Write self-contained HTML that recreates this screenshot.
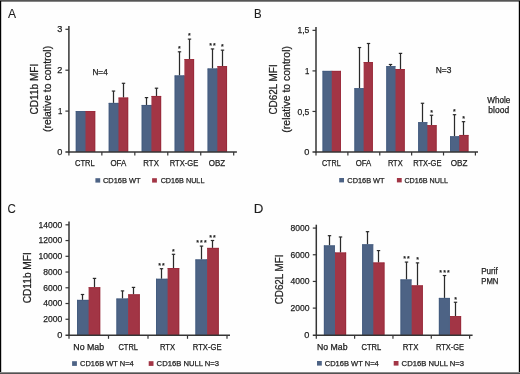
<!DOCTYPE html>
<html><head><meta charset="utf-8"><style>
html,body{margin:0;padding:0;background:#fff;}
svg{display:block;font-family:"Liberation Sans", sans-serif;-webkit-font-smoothing:antialiased;will-change:transform;}
</style></head><body>
<svg width="520" height="374" viewBox="0 0 520 374">
<rect x="0" y="0" width="520" height="374" fill="#fefefe"/>
<text x="7.97" y="17.90" font-size="12.6" textLength="8.05" lengthAdjust="spacingAndGlyphs" fill="#1e1e1e" stroke="#1e1e1e" stroke-width="0.1" >A</text>
<text x="253.95" y="17.70" font-size="12.2" textLength="7.64" lengthAdjust="spacingAndGlyphs" fill="#1e1e1e" stroke="#1e1e1e" stroke-width="0.1" >B</text>
<text x="7.43" y="213.30" font-size="12.4" textLength="8.30" lengthAdjust="spacingAndGlyphs" fill="#1e1e1e" stroke="#1e1e1e" stroke-width="0.1" >C</text>
<text x="253.80" y="213.30" font-size="12.4" textLength="9.63" lengthAdjust="spacingAndGlyphs" fill="#1e1e1e" stroke="#1e1e1e" stroke-width="0.1" >D</text>
<rect x="75.80" y="111.10" width="9.70" height="40.90" fill="#4d6385"/>
<rect x="84.30" y="111.10" width="2.00" height="40.90" fill="#4d6385"/>
<rect x="75.80" y="111.10" width="0.80" height="40.90" fill="#425a7e"/>
<rect x="75.80" y="111.10" width="9.70" height="0.80" fill="#425a7e"/>
<rect x="85.50" y="111.10" width="9.70" height="40.90" fill="#a23545"/>
<rect x="94.40" y="111.10" width="0.80" height="40.90" fill="#982838"/>
<rect x="85.50" y="111.10" width="9.70" height="0.80" fill="#982838"/>
<line x1="113.50" y1="91.06" x2="113.50" y2="102.92" stroke="#2a2a2a" stroke-width="1.25"/>
<line x1="111.80" y1="91.06" x2="115.20" y2="91.06" stroke="#2a2a2a" stroke-width="1.2"/>
<rect x="108.76" y="102.92" width="9.70" height="49.08" fill="#4d6385"/>
<rect x="117.26" y="102.92" width="2.00" height="49.08" fill="#4d6385"/>
<rect x="108.76" y="102.92" width="0.80" height="49.08" fill="#425a7e"/>
<rect x="108.76" y="102.92" width="9.70" height="0.80" fill="#425a7e"/>
<line x1="123.50" y1="83.29" x2="123.50" y2="97.60" stroke="#2a2a2a" stroke-width="1.25"/>
<line x1="121.80" y1="83.29" x2="125.20" y2="83.29" stroke="#2a2a2a" stroke-width="1.2"/>
<rect x="118.46" y="97.60" width="9.70" height="54.40" fill="#a23545"/>
<rect x="127.36" y="97.60" width="0.80" height="54.40" fill="#982838"/>
<rect x="118.46" y="97.60" width="9.70" height="0.80" fill="#982838"/>
<line x1="146.50" y1="97.60" x2="146.50" y2="104.97" stroke="#2a2a2a" stroke-width="1.25"/>
<line x1="144.80" y1="97.60" x2="148.20" y2="97.60" stroke="#2a2a2a" stroke-width="1.2"/>
<rect x="141.72" y="104.97" width="9.70" height="47.03" fill="#4d6385"/>
<rect x="150.22" y="104.97" width="2.00" height="47.03" fill="#4d6385"/>
<rect x="141.72" y="104.97" width="0.80" height="47.03" fill="#425a7e"/>
<rect x="141.72" y="104.97" width="9.70" height="0.80" fill="#425a7e"/>
<line x1="156.50" y1="88.20" x2="156.50" y2="95.97" stroke="#2a2a2a" stroke-width="1.25"/>
<line x1="154.80" y1="88.20" x2="158.20" y2="88.20" stroke="#2a2a2a" stroke-width="1.2"/>
<rect x="151.42" y="95.97" width="9.70" height="56.03" fill="#a23545"/>
<rect x="160.32" y="95.97" width="0.80" height="56.03" fill="#982838"/>
<rect x="151.42" y="95.97" width="9.70" height="0.80" fill="#982838"/>
<line x1="179.50" y1="51.80" x2="179.50" y2="75.52" stroke="#2a2a2a" stroke-width="1.25"/>
<line x1="177.80" y1="51.80" x2="181.20" y2="51.80" stroke="#2a2a2a" stroke-width="1.2"/>
<rect x="174.68" y="75.52" width="9.70" height="76.48" fill="#4d6385"/>
<rect x="183.18" y="75.52" width="2.00" height="76.48" fill="#4d6385"/>
<rect x="174.68" y="75.52" width="0.80" height="76.48" fill="#425a7e"/>
<rect x="174.68" y="75.52" width="9.70" height="0.80" fill="#425a7e"/>
<text x="178.13" y="51.09" font-size="7.0" textLength="2.74" lengthAdjust="spacingAndGlyphs" fill="#1e1e1e" stroke="#1e1e1e" stroke-width="0.25" >*</text>
<line x1="189.50" y1="39.12" x2="189.50" y2="59.16" stroke="#2a2a2a" stroke-width="1.25"/>
<line x1="187.80" y1="39.12" x2="191.20" y2="39.12" stroke="#2a2a2a" stroke-width="1.2"/>
<rect x="184.38" y="59.16" width="9.70" height="92.84" fill="#a23545"/>
<rect x="193.28" y="59.16" width="0.80" height="92.84" fill="#982838"/>
<rect x="184.38" y="59.16" width="9.70" height="0.80" fill="#982838"/>
<text x="188.13" y="38.41" font-size="7.0" textLength="2.74" lengthAdjust="spacingAndGlyphs" fill="#1e1e1e" stroke="#1e1e1e" stroke-width="0.25" >*</text>
<line x1="212.50" y1="48.93" x2="212.50" y2="68.56" stroke="#2a2a2a" stroke-width="1.25"/>
<line x1="210.80" y1="48.93" x2="214.20" y2="48.93" stroke="#2a2a2a" stroke-width="1.2"/>
<rect x="207.64" y="68.56" width="9.70" height="83.44" fill="#4d6385"/>
<rect x="216.14" y="68.56" width="2.00" height="83.44" fill="#4d6385"/>
<rect x="207.64" y="68.56" width="0.80" height="83.44" fill="#425a7e"/>
<rect x="207.64" y="68.56" width="9.70" height="0.80" fill="#425a7e"/>
<text x="209.23" y="48.22" font-size="7.0" textLength="2.74" lengthAdjust="spacingAndGlyphs" fill="#1e1e1e" stroke="#1e1e1e" stroke-width="0.25" >*</text>
<text x="213.03" y="48.22" font-size="7.0" textLength="2.74" lengthAdjust="spacingAndGlyphs" fill="#1e1e1e" stroke="#1e1e1e" stroke-width="0.25" >*</text>
<line x1="222.50" y1="50.16" x2="222.50" y2="66.11" stroke="#2a2a2a" stroke-width="1.25"/>
<line x1="220.80" y1="50.16" x2="224.20" y2="50.16" stroke="#2a2a2a" stroke-width="1.2"/>
<rect x="217.34" y="66.11" width="9.70" height="85.89" fill="#a23545"/>
<rect x="226.24" y="66.11" width="0.80" height="85.89" fill="#982838"/>
<rect x="217.34" y="66.11" width="9.70" height="0.80" fill="#982838"/>
<text x="221.13" y="49.45" font-size="7.0" textLength="2.74" lengthAdjust="spacingAndGlyphs" fill="#1e1e1e" stroke="#1e1e1e" stroke-width="0.25" >*</text>
<line x1="68.90" y1="26.00" x2="68.90" y2="152.75" stroke="#353535" stroke-width="1.5"/>
<line x1="65.40" y1="152.00" x2="236.90" y2="152.00" stroke="#353535" stroke-width="1.5"/>
<text x="57.14" y="155.01" font-size="9.2" textLength="5.12" lengthAdjust="spacingAndGlyphs" fill="#1e1e1e" stroke="#1e1e1e" stroke-width="0.25" >0</text>
<line x1="65.40" y1="111.10" x2="68.90" y2="111.10" stroke="#353535" stroke-width="1.2"/>
<text x="57.93" y="114.11" font-size="9.2" textLength="4.35" lengthAdjust="spacingAndGlyphs" fill="#1e1e1e" stroke="#1e1e1e" stroke-width="0.25" >1</text>
<line x1="65.40" y1="70.20" x2="68.90" y2="70.20" stroke="#353535" stroke-width="1.2"/>
<text x="57.25" y="73.21" font-size="9.2" textLength="5.12" lengthAdjust="spacingAndGlyphs" fill="#1e1e1e" stroke="#1e1e1e" stroke-width="0.25" >2</text>
<line x1="65.40" y1="29.30" x2="68.90" y2="29.30" stroke="#353535" stroke-width="1.2"/>
<text x="57.19" y="32.31" font-size="9.2" textLength="5.12" lengthAdjust="spacingAndGlyphs" fill="#1e1e1e" stroke="#1e1e1e" stroke-width="0.25" >3</text>
<line x1="68.90" y1="152.00" x2="68.90" y2="155.50" stroke="#353535" stroke-width="1.2"/>
<line x1="101.86" y1="152.00" x2="101.86" y2="155.50" stroke="#353535" stroke-width="1.2"/>
<line x1="134.82" y1="152.00" x2="134.82" y2="155.50" stroke="#353535" stroke-width="1.2"/>
<line x1="167.78" y1="152.00" x2="167.78" y2="155.50" stroke="#353535" stroke-width="1.2"/>
<line x1="200.74" y1="152.00" x2="200.74" y2="155.50" stroke="#353535" stroke-width="1.2"/>
<line x1="233.70" y1="152.00" x2="233.70" y2="155.50" stroke="#353535" stroke-width="1.2"/>
<text x="75.02" y="166.10" font-size="8.4" textLength="19.63" lengthAdjust="spacingAndGlyphs" fill="#1e1e1e" stroke="#1e1e1e" stroke-width="0.25" >CTRL</text>
<text x="110.42" y="166.10" font-size="8.4" textLength="15.90" lengthAdjust="spacingAndGlyphs" fill="#1e1e1e" stroke="#1e1e1e" stroke-width="0.25" >OFA</text>
<text x="143.35" y="166.10" font-size="8.4" textLength="15.52" lengthAdjust="spacingAndGlyphs" fill="#1e1e1e" stroke="#1e1e1e" stroke-width="0.25" >RTX</text>
<text x="169.77" y="166.10" font-size="8.4" textLength="28.55" lengthAdjust="spacingAndGlyphs" fill="#1e1e1e" stroke="#1e1e1e" stroke-width="0.25" >RTX-GE</text>
<text x="208.72" y="166.10" font-size="8.4" textLength="16.42" lengthAdjust="spacingAndGlyphs" fill="#1e1e1e" stroke="#1e1e1e" stroke-width="0.25" >OBZ</text>
<rect x="322.60" y="70.90" width="9.15" height="81.10" fill="#4d6385"/>
<rect x="330.55" y="70.90" width="2.00" height="81.10" fill="#4d6385"/>
<rect x="322.60" y="70.90" width="0.80" height="81.10" fill="#425a7e"/>
<rect x="322.60" y="70.90" width="9.15" height="0.80" fill="#425a7e"/>
<rect x="331.75" y="70.90" width="9.15" height="81.10" fill="#a23545"/>
<rect x="340.10" y="70.90" width="0.80" height="81.10" fill="#982838"/>
<rect x="331.75" y="70.90" width="9.15" height="0.80" fill="#982838"/>
<line x1="359.50" y1="47.54" x2="359.50" y2="88.26" stroke="#2a2a2a" stroke-width="1.25"/>
<line x1="357.80" y1="47.54" x2="361.20" y2="47.54" stroke="#2a2a2a" stroke-width="1.2"/>
<rect x="354.48" y="88.26" width="9.15" height="63.74" fill="#4d6385"/>
<rect x="362.43" y="88.26" width="2.00" height="63.74" fill="#4d6385"/>
<rect x="354.48" y="88.26" width="0.80" height="63.74" fill="#425a7e"/>
<rect x="354.48" y="88.26" width="9.15" height="0.80" fill="#425a7e"/>
<line x1="368.50" y1="43.49" x2="368.50" y2="62.06" stroke="#2a2a2a" stroke-width="1.25"/>
<line x1="366.80" y1="43.49" x2="370.20" y2="43.49" stroke="#2a2a2a" stroke-width="1.2"/>
<rect x="363.63" y="62.06" width="9.15" height="89.94" fill="#a23545"/>
<rect x="371.98" y="62.06" width="0.80" height="89.94" fill="#982838"/>
<rect x="363.63" y="62.06" width="9.15" height="0.80" fill="#982838"/>
<line x1="390.50" y1="64.49" x2="390.50" y2="66.20" stroke="#2a2a2a" stroke-width="1.25"/>
<line x1="388.80" y1="64.49" x2="392.20" y2="64.49" stroke="#2a2a2a" stroke-width="1.2"/>
<rect x="386.36" y="66.20" width="9.15" height="85.80" fill="#4d6385"/>
<rect x="394.31" y="69.03" width="2.00" height="82.97" fill="#4d6385"/>
<rect x="386.36" y="66.20" width="0.80" height="85.80" fill="#425a7e"/>
<rect x="386.36" y="66.20" width="9.15" height="0.80" fill="#425a7e"/>
<line x1="400.50" y1="53.38" x2="400.50" y2="69.03" stroke="#2a2a2a" stroke-width="1.25"/>
<line x1="398.80" y1="53.38" x2="402.20" y2="53.38" stroke="#2a2a2a" stroke-width="1.2"/>
<rect x="395.51" y="69.03" width="9.15" height="82.97" fill="#a23545"/>
<rect x="403.86" y="69.03" width="0.80" height="82.97" fill="#982838"/>
<rect x="395.51" y="69.03" width="9.15" height="0.80" fill="#982838"/>
<line x1="422.50" y1="103.26" x2="422.50" y2="122.24" stroke="#2a2a2a" stroke-width="1.25"/>
<line x1="420.80" y1="103.26" x2="424.20" y2="103.26" stroke="#2a2a2a" stroke-width="1.2"/>
<rect x="418.24" y="122.24" width="9.15" height="29.76" fill="#4d6385"/>
<rect x="426.19" y="125.24" width="2.00" height="26.76" fill="#4d6385"/>
<rect x="418.24" y="122.24" width="0.80" height="29.76" fill="#425a7e"/>
<rect x="418.24" y="122.24" width="9.15" height="0.80" fill="#425a7e"/>
<line x1="431.50" y1="115.26" x2="431.50" y2="125.24" stroke="#2a2a2a" stroke-width="1.25"/>
<line x1="429.80" y1="115.26" x2="433.20" y2="115.26" stroke="#2a2a2a" stroke-width="1.2"/>
<rect x="427.39" y="125.24" width="9.15" height="26.76" fill="#a23545"/>
<rect x="435.74" y="125.24" width="0.80" height="26.76" fill="#982838"/>
<rect x="427.39" y="125.24" width="9.15" height="0.80" fill="#982838"/>
<text x="430.13" y="114.55" font-size="7.0" textLength="2.74" lengthAdjust="spacingAndGlyphs" fill="#1e1e1e" stroke="#1e1e1e" stroke-width="0.25" >*</text>
<line x1="454.50" y1="114.69" x2="454.50" y2="136.35" stroke="#2a2a2a" stroke-width="1.25"/>
<line x1="452.80" y1="114.69" x2="456.20" y2="114.69" stroke="#2a2a2a" stroke-width="1.2"/>
<rect x="450.12" y="136.35" width="9.15" height="15.65" fill="#4d6385"/>
<rect x="458.07" y="136.35" width="2.00" height="15.65" fill="#4d6385"/>
<rect x="450.12" y="136.35" width="0.80" height="15.65" fill="#425a7e"/>
<rect x="450.12" y="136.35" width="9.15" height="0.80" fill="#425a7e"/>
<text x="453.13" y="113.98" font-size="7.0" textLength="2.74" lengthAdjust="spacingAndGlyphs" fill="#1e1e1e" stroke="#1e1e1e" stroke-width="0.25" >*</text>
<line x1="463.50" y1="121.67" x2="463.50" y2="134.97" stroke="#2a2a2a" stroke-width="1.25"/>
<line x1="461.80" y1="121.67" x2="465.20" y2="121.67" stroke="#2a2a2a" stroke-width="1.2"/>
<rect x="459.27" y="134.97" width="9.15" height="17.03" fill="#a23545"/>
<rect x="467.62" y="134.97" width="0.80" height="17.03" fill="#982838"/>
<rect x="459.27" y="134.97" width="9.15" height="0.80" fill="#982838"/>
<text x="462.13" y="120.96" font-size="7.0" textLength="2.74" lengthAdjust="spacingAndGlyphs" fill="#1e1e1e" stroke="#1e1e1e" stroke-width="0.25" >*</text>
<line x1="316.00" y1="27.00" x2="316.00" y2="152.75" stroke="#353535" stroke-width="1.5"/>
<line x1="312.50" y1="152.00" x2="478.00" y2="152.00" stroke="#353535" stroke-width="1.5"/>
<text x="304.24" y="155.11" font-size="9.2" textLength="5.12" lengthAdjust="spacingAndGlyphs" fill="#1e1e1e" stroke="#1e1e1e" stroke-width="0.25" >0</text>
<line x1="312.50" y1="111.45" x2="316.00" y2="111.45" stroke="#353535" stroke-width="1.2"/>
<text x="297.45" y="114.56" font-size="9.2" textLength="11.89" lengthAdjust="spacingAndGlyphs" fill="#1e1e1e" stroke="#1e1e1e" stroke-width="0.25" >0,5</text>
<line x1="312.50" y1="70.90" x2="316.00" y2="70.90" stroke="#353535" stroke-width="1.2"/>
<text x="305.03" y="74.01" font-size="9.2" textLength="4.35" lengthAdjust="spacingAndGlyphs" fill="#1e1e1e" stroke="#1e1e1e" stroke-width="0.25" >1</text>
<line x1="312.50" y1="30.35" x2="316.00" y2="30.35" stroke="#353535" stroke-width="1.2"/>
<text x="297.45" y="33.46" font-size="9.2" textLength="11.89" lengthAdjust="spacingAndGlyphs" fill="#1e1e1e" stroke="#1e1e1e" stroke-width="0.25" >1,5</text>
<line x1="316.00" y1="152.00" x2="316.00" y2="155.50" stroke="#353535" stroke-width="1.2"/>
<line x1="347.88" y1="152.00" x2="347.88" y2="155.50" stroke="#353535" stroke-width="1.2"/>
<line x1="379.76" y1="152.00" x2="379.76" y2="155.50" stroke="#353535" stroke-width="1.2"/>
<line x1="411.64" y1="152.00" x2="411.64" y2="155.50" stroke="#353535" stroke-width="1.2"/>
<line x1="443.52" y1="152.00" x2="443.52" y2="155.50" stroke="#353535" stroke-width="1.2"/>
<line x1="475.40" y1="152.00" x2="475.40" y2="155.50" stroke="#353535" stroke-width="1.2"/>
<text x="321.94" y="166.30" font-size="8.4" textLength="18.70" lengthAdjust="spacingAndGlyphs" fill="#1e1e1e" stroke="#1e1e1e" stroke-width="0.25" >CTRL</text>
<text x="355.63" y="166.30" font-size="8.4" textLength="15.59" lengthAdjust="spacingAndGlyphs" fill="#1e1e1e" stroke="#1e1e1e" stroke-width="0.25" >OFA</text>
<text x="387.88" y="166.30" font-size="8.4" textLength="14.78" lengthAdjust="spacingAndGlyphs" fill="#1e1e1e" stroke="#1e1e1e" stroke-width="0.25" >RTX</text>
<text x="413.18" y="166.30" font-size="8.4" textLength="28.34" lengthAdjust="spacingAndGlyphs" fill="#1e1e1e" stroke="#1e1e1e" stroke-width="0.25" >RTX-GE</text>
<text x="450.71" y="166.30" font-size="8.4" textLength="16.74" lengthAdjust="spacingAndGlyphs" fill="#1e1e1e" stroke="#1e1e1e" stroke-width="0.25" >OBZ</text>
<line x1="82.50" y1="294.50" x2="82.50" y2="299.90" stroke="#2a2a2a" stroke-width="1.25"/>
<line x1="80.80" y1="294.50" x2="84.20" y2="294.50" stroke="#2a2a2a" stroke-width="1.2"/>
<rect x="77.00" y="299.90" width="11.60" height="35.40" fill="#4d6385"/>
<rect x="87.40" y="299.90" width="2.00" height="35.40" fill="#4d6385"/>
<rect x="77.00" y="299.90" width="0.80" height="35.40" fill="#425a7e"/>
<rect x="77.00" y="299.90" width="11.60" height="0.80" fill="#425a7e"/>
<line x1="94.50" y1="278.40" x2="94.50" y2="287.30" stroke="#2a2a2a" stroke-width="1.25"/>
<line x1="92.80" y1="278.40" x2="96.20" y2="278.40" stroke="#2a2a2a" stroke-width="1.2"/>
<rect x="88.60" y="287.30" width="11.60" height="48.00" fill="#a23545"/>
<rect x="99.40" y="287.30" width="0.80" height="48.00" fill="#982838"/>
<rect x="88.60" y="287.30" width="11.60" height="0.80" fill="#982838"/>
<line x1="122.50" y1="290.90" x2="122.50" y2="298.60" stroke="#2a2a2a" stroke-width="1.25"/>
<line x1="120.80" y1="290.90" x2="124.20" y2="290.90" stroke="#2a2a2a" stroke-width="1.2"/>
<rect x="116.50" y="298.60" width="11.60" height="36.70" fill="#4d6385"/>
<rect x="126.90" y="298.60" width="2.00" height="36.70" fill="#4d6385"/>
<rect x="116.50" y="298.60" width="0.80" height="36.70" fill="#425a7e"/>
<rect x="116.50" y="298.60" width="11.60" height="0.80" fill="#425a7e"/>
<line x1="133.50" y1="287.40" x2="133.50" y2="294.40" stroke="#2a2a2a" stroke-width="1.25"/>
<line x1="131.80" y1="287.40" x2="135.20" y2="287.40" stroke="#2a2a2a" stroke-width="1.2"/>
<rect x="128.10" y="294.40" width="11.60" height="40.90" fill="#a23545"/>
<rect x="138.90" y="294.40" width="0.80" height="40.90" fill="#982838"/>
<rect x="128.10" y="294.40" width="11.60" height="0.80" fill="#982838"/>
<line x1="161.50" y1="268.70" x2="161.50" y2="278.80" stroke="#2a2a2a" stroke-width="1.25"/>
<line x1="159.80" y1="268.70" x2="163.20" y2="268.70" stroke="#2a2a2a" stroke-width="1.2"/>
<rect x="156.00" y="278.80" width="11.60" height="56.50" fill="#4d6385"/>
<rect x="166.40" y="278.80" width="2.00" height="56.50" fill="#4d6385"/>
<rect x="156.00" y="278.80" width="0.80" height="56.50" fill="#425a7e"/>
<rect x="156.00" y="278.80" width="11.60" height="0.80" fill="#425a7e"/>
<text x="158.23" y="267.99" font-size="7.0" textLength="2.74" lengthAdjust="spacingAndGlyphs" fill="#1e1e1e" stroke="#1e1e1e" stroke-width="0.25" >*</text>
<text x="162.03" y="267.99" font-size="7.0" textLength="2.74" lengthAdjust="spacingAndGlyphs" fill="#1e1e1e" stroke="#1e1e1e" stroke-width="0.25" >*</text>
<line x1="173.50" y1="254.30" x2="173.50" y2="268.10" stroke="#2a2a2a" stroke-width="1.25"/>
<line x1="171.80" y1="254.30" x2="175.20" y2="254.30" stroke="#2a2a2a" stroke-width="1.2"/>
<rect x="167.60" y="268.10" width="11.60" height="67.20" fill="#a23545"/>
<rect x="178.40" y="268.10" width="0.80" height="67.20" fill="#982838"/>
<rect x="167.60" y="268.10" width="11.60" height="0.80" fill="#982838"/>
<text x="172.13" y="253.59" font-size="7.0" textLength="2.74" lengthAdjust="spacingAndGlyphs" fill="#1e1e1e" stroke="#1e1e1e" stroke-width="0.25" >*</text>
<line x1="201.50" y1="246.10" x2="201.50" y2="259.50" stroke="#2a2a2a" stroke-width="1.25"/>
<line x1="199.80" y1="246.10" x2="203.20" y2="246.10" stroke="#2a2a2a" stroke-width="1.2"/>
<rect x="195.50" y="259.50" width="11.60" height="75.80" fill="#4d6385"/>
<rect x="205.90" y="259.50" width="2.00" height="75.80" fill="#4d6385"/>
<rect x="195.50" y="259.50" width="0.80" height="75.80" fill="#425a7e"/>
<rect x="195.50" y="259.50" width="11.60" height="0.80" fill="#425a7e"/>
<text x="196.33" y="245.39" font-size="7.0" textLength="2.74" lengthAdjust="spacingAndGlyphs" fill="#1e1e1e" stroke="#1e1e1e" stroke-width="0.25" >*</text>
<text x="200.13" y="245.39" font-size="7.0" textLength="2.74" lengthAdjust="spacingAndGlyphs" fill="#1e1e1e" stroke="#1e1e1e" stroke-width="0.25" >*</text>
<text x="203.93" y="245.39" font-size="7.0" textLength="2.74" lengthAdjust="spacingAndGlyphs" fill="#1e1e1e" stroke="#1e1e1e" stroke-width="0.25" >*</text>
<line x1="212.50" y1="240.50" x2="212.50" y2="247.90" stroke="#2a2a2a" stroke-width="1.25"/>
<line x1="210.80" y1="240.50" x2="214.20" y2="240.50" stroke="#2a2a2a" stroke-width="1.2"/>
<rect x="207.10" y="247.90" width="11.60" height="87.40" fill="#a23545"/>
<rect x="217.90" y="247.90" width="0.80" height="87.40" fill="#982838"/>
<rect x="207.10" y="247.90" width="11.60" height="0.80" fill="#982838"/>
<text x="209.23" y="239.79" font-size="7.0" textLength="2.74" lengthAdjust="spacingAndGlyphs" fill="#1e1e1e" stroke="#1e1e1e" stroke-width="0.25" >*</text>
<text x="213.03" y="239.79" font-size="7.0" textLength="2.74" lengthAdjust="spacingAndGlyphs" fill="#1e1e1e" stroke="#1e1e1e" stroke-width="0.25" >*</text>
<line x1="69.00" y1="221.50" x2="69.00" y2="336.05" stroke="#353535" stroke-width="1.5"/>
<line x1="65.50" y1="335.30" x2="230.00" y2="335.30" stroke="#353535" stroke-width="1.5"/>
<text x="57.14" y="337.81" font-size="9.2" textLength="5.12" lengthAdjust="spacingAndGlyphs" fill="#1e1e1e" stroke="#1e1e1e" stroke-width="0.25" >0</text>
<line x1="65.50" y1="319.26" x2="69.00" y2="319.26" stroke="#353535" stroke-width="1.2"/>
<text x="43.21" y="322.07" font-size="9.2" textLength="19.03" lengthAdjust="spacingAndGlyphs" fill="#1e1e1e" stroke="#1e1e1e" stroke-width="0.25" >2000</text>
<line x1="65.50" y1="303.52" x2="69.00" y2="303.52" stroke="#353535" stroke-width="1.2"/>
<text x="43.21" y="306.33" font-size="9.2" textLength="19.03" lengthAdjust="spacingAndGlyphs" fill="#1e1e1e" stroke="#1e1e1e" stroke-width="0.25" >4000</text>
<line x1="65.50" y1="287.78" x2="69.00" y2="287.78" stroke="#353535" stroke-width="1.2"/>
<text x="43.21" y="290.59" font-size="9.2" textLength="19.03" lengthAdjust="spacingAndGlyphs" fill="#1e1e1e" stroke="#1e1e1e" stroke-width="0.25" >6000</text>
<line x1="65.50" y1="272.04" x2="69.00" y2="272.04" stroke="#353535" stroke-width="1.2"/>
<text x="43.21" y="274.85" font-size="9.2" textLength="19.03" lengthAdjust="spacingAndGlyphs" fill="#1e1e1e" stroke="#1e1e1e" stroke-width="0.25" >8000</text>
<line x1="65.50" y1="256.30" x2="69.00" y2="256.30" stroke="#353535" stroke-width="1.2"/>
<text x="38.44" y="259.11" font-size="9.2" textLength="23.79" lengthAdjust="spacingAndGlyphs" fill="#1e1e1e" stroke="#1e1e1e" stroke-width="0.25" >10000</text>
<line x1="65.50" y1="240.56" x2="69.00" y2="240.56" stroke="#353535" stroke-width="1.2"/>
<text x="38.44" y="243.37" font-size="9.2" textLength="23.79" lengthAdjust="spacingAndGlyphs" fill="#1e1e1e" stroke="#1e1e1e" stroke-width="0.25" >12000</text>
<line x1="65.50" y1="224.82" x2="69.00" y2="224.82" stroke="#353535" stroke-width="1.2"/>
<text x="38.44" y="227.63" font-size="9.2" textLength="23.79" lengthAdjust="spacingAndGlyphs" fill="#1e1e1e" stroke="#1e1e1e" stroke-width="0.25" >14000</text>
<line x1="69.00" y1="335.30" x2="69.00" y2="338.80" stroke="#353535" stroke-width="1.2"/>
<line x1="108.50" y1="335.30" x2="108.50" y2="338.80" stroke="#353535" stroke-width="1.2"/>
<line x1="148.00" y1="335.30" x2="148.00" y2="338.80" stroke="#353535" stroke-width="1.2"/>
<line x1="187.50" y1="335.30" x2="187.50" y2="338.80" stroke="#353535" stroke-width="1.2"/>
<line x1="227.00" y1="335.30" x2="227.00" y2="338.80" stroke="#353535" stroke-width="1.2"/>
<text x="73.37" y="349.60" font-size="8.4" textLength="30.79" lengthAdjust="spacingAndGlyphs" fill="#1e1e1e" stroke="#1e1e1e" stroke-width="0.25" >No Mab</text>
<text x="118.43" y="349.60" font-size="8.4" textLength="19.53" lengthAdjust="spacingAndGlyphs" fill="#1e1e1e" stroke="#1e1e1e" stroke-width="0.25" >CTRL</text>
<text x="159.97" y="349.60" font-size="8.4" textLength="15.10" lengthAdjust="spacingAndGlyphs" fill="#1e1e1e" stroke="#1e1e1e" stroke-width="0.25" >RTX</text>
<text x="192.77" y="349.60" font-size="8.4" textLength="28.75" lengthAdjust="spacingAndGlyphs" fill="#1e1e1e" stroke="#1e1e1e" stroke-width="0.25" >RTX-GE</text>
<line x1="329.50" y1="235.68" x2="329.50" y2="245.48" stroke="#2a2a2a" stroke-width="1.25"/>
<line x1="327.80" y1="235.68" x2="331.20" y2="235.68" stroke="#2a2a2a" stroke-width="1.2"/>
<rect x="323.90" y="245.48" width="11.10" height="89.82" fill="#4d6385"/>
<rect x="333.80" y="252.57" width="2.00" height="82.73" fill="#4d6385"/>
<rect x="323.90" y="245.48" width="0.80" height="89.82" fill="#425a7e"/>
<rect x="323.90" y="245.48" width="11.10" height="0.80" fill="#425a7e"/>
<line x1="340.50" y1="236.98" x2="340.50" y2="252.57" stroke="#2a2a2a" stroke-width="1.25"/>
<line x1="338.80" y1="236.98" x2="342.20" y2="236.98" stroke="#2a2a2a" stroke-width="1.2"/>
<rect x="335.00" y="252.57" width="11.10" height="82.73" fill="#a23545"/>
<rect x="345.30" y="252.57" width="0.80" height="82.73" fill="#982838"/>
<rect x="335.00" y="252.57" width="11.10" height="0.80" fill="#982838"/>
<line x1="367.50" y1="231.68" x2="367.50" y2="244.38" stroke="#2a2a2a" stroke-width="1.25"/>
<line x1="365.80" y1="231.68" x2="369.20" y2="231.68" stroke="#2a2a2a" stroke-width="1.2"/>
<rect x="362.23" y="244.38" width="11.10" height="90.92" fill="#4d6385"/>
<rect x="372.13" y="262.56" width="2.00" height="72.74" fill="#4d6385"/>
<rect x="362.23" y="244.38" width="0.80" height="90.92" fill="#425a7e"/>
<rect x="362.23" y="244.38" width="11.10" height="0.80" fill="#425a7e"/>
<line x1="378.50" y1="250.57" x2="378.50" y2="262.56" stroke="#2a2a2a" stroke-width="1.25"/>
<line x1="376.80" y1="250.57" x2="380.20" y2="250.57" stroke="#2a2a2a" stroke-width="1.2"/>
<rect x="373.33" y="262.56" width="11.10" height="72.74" fill="#a23545"/>
<rect x="383.63" y="262.56" width="0.80" height="72.74" fill="#982838"/>
<rect x="373.33" y="262.56" width="11.10" height="0.80" fill="#982838"/>
<line x1="406.50" y1="262.08" x2="406.50" y2="279.51" stroke="#2a2a2a" stroke-width="1.25"/>
<line x1="404.80" y1="262.08" x2="408.20" y2="262.08" stroke="#2a2a2a" stroke-width="1.2"/>
<rect x="400.56" y="279.51" width="11.10" height="55.79" fill="#4d6385"/>
<rect x="410.46" y="285.44" width="2.00" height="49.86" fill="#4d6385"/>
<rect x="400.56" y="279.51" width="0.80" height="55.79" fill="#425a7e"/>
<rect x="400.56" y="279.51" width="11.10" height="0.80" fill="#425a7e"/>
<text x="403.23" y="261.37" font-size="7.0" textLength="2.74" lengthAdjust="spacingAndGlyphs" fill="#1e1e1e" stroke="#1e1e1e" stroke-width="0.25" >*</text>
<text x="407.03" y="261.37" font-size="7.0" textLength="2.74" lengthAdjust="spacingAndGlyphs" fill="#1e1e1e" stroke="#1e1e1e" stroke-width="0.25" >*</text>
<line x1="417.50" y1="262.88" x2="417.50" y2="285.44" stroke="#2a2a2a" stroke-width="1.25"/>
<line x1="415.80" y1="262.88" x2="419.20" y2="262.88" stroke="#2a2a2a" stroke-width="1.2"/>
<rect x="411.66" y="285.44" width="11.10" height="49.86" fill="#a23545"/>
<rect x="421.96" y="285.44" width="0.80" height="49.86" fill="#982838"/>
<rect x="411.66" y="285.44" width="11.10" height="0.80" fill="#982838"/>
<text x="416.13" y="262.17" font-size="7.0" textLength="2.74" lengthAdjust="spacingAndGlyphs" fill="#1e1e1e" stroke="#1e1e1e" stroke-width="0.25" >*</text>
<line x1="444.50" y1="275.54" x2="444.50" y2="297.93" stroke="#2a2a2a" stroke-width="1.25"/>
<line x1="442.80" y1="275.54" x2="446.20" y2="275.54" stroke="#2a2a2a" stroke-width="1.2"/>
<rect x="438.89" y="297.93" width="11.10" height="37.37" fill="#4d6385"/>
<rect x="448.79" y="316.20" width="2.00" height="19.10" fill="#4d6385"/>
<rect x="438.89" y="297.93" width="0.80" height="37.37" fill="#425a7e"/>
<rect x="438.89" y="297.93" width="11.10" height="0.80" fill="#425a7e"/>
<text x="439.33" y="274.83" font-size="7.0" textLength="2.74" lengthAdjust="spacingAndGlyphs" fill="#1e1e1e" stroke="#1e1e1e" stroke-width="0.25" >*</text>
<text x="443.13" y="274.83" font-size="7.0" textLength="2.74" lengthAdjust="spacingAndGlyphs" fill="#1e1e1e" stroke="#1e1e1e" stroke-width="0.25" >*</text>
<text x="446.93" y="274.83" font-size="7.0" textLength="2.74" lengthAdjust="spacingAndGlyphs" fill="#1e1e1e" stroke="#1e1e1e" stroke-width="0.25" >*</text>
<line x1="455.50" y1="302.25" x2="455.50" y2="316.20" stroke="#2a2a2a" stroke-width="1.25"/>
<line x1="453.80" y1="302.25" x2="457.20" y2="302.25" stroke="#2a2a2a" stroke-width="1.2"/>
<rect x="449.99" y="316.20" width="11.10" height="19.10" fill="#a23545"/>
<rect x="460.29" y="316.20" width="0.80" height="19.10" fill="#982838"/>
<rect x="449.99" y="316.20" width="11.10" height="0.80" fill="#982838"/>
<text x="454.13" y="301.54" font-size="7.0" textLength="2.74" lengthAdjust="spacingAndGlyphs" fill="#1e1e1e" stroke="#1e1e1e" stroke-width="0.25" >*</text>
<line x1="316.30" y1="224.70" x2="316.30" y2="336.05" stroke="#353535" stroke-width="1.5"/>
<line x1="312.80" y1="335.30" x2="472.60" y2="335.30" stroke="#353535" stroke-width="1.5"/>
<text x="304.34" y="337.81" font-size="9.2" textLength="5.12" lengthAdjust="spacingAndGlyphs" fill="#1e1e1e" stroke="#1e1e1e" stroke-width="0.25" >0</text>
<line x1="312.80" y1="308.12" x2="316.30" y2="308.12" stroke="#353535" stroke-width="1.2"/>
<text x="290.41" y="311.13" font-size="9.2" textLength="19.03" lengthAdjust="spacingAndGlyphs" fill="#1e1e1e" stroke="#1e1e1e" stroke-width="0.25" >2000</text>
<line x1="312.80" y1="281.44" x2="316.30" y2="281.44" stroke="#353535" stroke-width="1.2"/>
<text x="290.41" y="284.45" font-size="9.2" textLength="19.03" lengthAdjust="spacingAndGlyphs" fill="#1e1e1e" stroke="#1e1e1e" stroke-width="0.25" >4000</text>
<line x1="312.80" y1="254.76" x2="316.30" y2="254.76" stroke="#353535" stroke-width="1.2"/>
<text x="290.41" y="257.77" font-size="9.2" textLength="19.03" lengthAdjust="spacingAndGlyphs" fill="#1e1e1e" stroke="#1e1e1e" stroke-width="0.25" >6000</text>
<line x1="312.80" y1="228.08" x2="316.30" y2="228.08" stroke="#353535" stroke-width="1.2"/>
<text x="290.41" y="231.09" font-size="9.2" textLength="19.03" lengthAdjust="spacingAndGlyphs" fill="#1e1e1e" stroke="#1e1e1e" stroke-width="0.25" >8000</text>
<line x1="316.30" y1="335.30" x2="316.30" y2="338.80" stroke="#353535" stroke-width="1.2"/>
<line x1="354.63" y1="335.30" x2="354.63" y2="338.80" stroke="#353535" stroke-width="1.2"/>
<line x1="392.96" y1="335.30" x2="392.96" y2="338.80" stroke="#353535" stroke-width="1.2"/>
<line x1="431.29" y1="335.30" x2="431.29" y2="338.80" stroke="#353535" stroke-width="1.2"/>
<line x1="469.62" y1="335.30" x2="469.62" y2="338.80" stroke="#353535" stroke-width="1.2"/>
<text x="317.08" y="349.80" font-size="8.4" textLength="30.48" lengthAdjust="spacingAndGlyphs" fill="#1e1e1e" stroke="#1e1e1e" stroke-width="0.25" >No Mab</text>
<text x="361.52" y="349.80" font-size="8.4" textLength="19.73" lengthAdjust="spacingAndGlyphs" fill="#1e1e1e" stroke="#1e1e1e" stroke-width="0.25" >CTRL</text>
<text x="402.85" y="349.80" font-size="8.4" textLength="15.52" lengthAdjust="spacingAndGlyphs" fill="#1e1e1e" stroke="#1e1e1e" stroke-width="0.25" >RTX</text>
<text x="435.98" y="349.80" font-size="8.4" textLength="28.13" lengthAdjust="spacingAndGlyphs" fill="#1e1e1e" stroke="#1e1e1e" stroke-width="0.25" >RTX-GE</text>
<text x="-0.50" y="0" font-size="10.2" textLength="50.74" lengthAdjust="spacingAndGlyphs" fill="#1e1e1e" stroke="#1e1e1e" stroke-width="0.25" transform="translate(37.80,114.00) rotate(-90)">CD11b MFI</text>
<text x="-0.65" y="0" font-size="10.2" textLength="86.19" lengthAdjust="spacingAndGlyphs" fill="#1e1e1e" stroke="#1e1e1e" stroke-width="0.25" transform="translate(51.00,131.40) rotate(-90)">(relative to control)</text>
<text x="-0.49" y="0" font-size="10.2" textLength="50.21" lengthAdjust="spacingAndGlyphs" fill="#1e1e1e" stroke="#1e1e1e" stroke-width="0.25" transform="translate(277.00,114.10) rotate(-90)">CD62L MFI</text>
<text x="-0.65" y="0" font-size="10.2" textLength="86.59" lengthAdjust="spacingAndGlyphs" fill="#1e1e1e" stroke="#1e1e1e" stroke-width="0.25" transform="translate(289.80,132.00) rotate(-90)">(relative to control)</text>
<text x="-0.51" y="0" font-size="10.2" textLength="51.15" lengthAdjust="spacingAndGlyphs" fill="#1e1e1e" stroke="#1e1e1e" stroke-width="0.25" transform="translate(31.10,302.80) rotate(-90)">CD11b MFI</text>
<text x="-0.49" y="0" font-size="10.2" textLength="49.80" lengthAdjust="spacingAndGlyphs" fill="#1e1e1e" stroke="#1e1e1e" stroke-width="0.25" transform="translate(283.00,303.80) rotate(-90)">CD62L MFI</text>
<text x="92.42" y="74.60" font-size="8.2" textLength="15.32" lengthAdjust="spacingAndGlyphs" fill="#1e1e1e" stroke="#1e1e1e" stroke-width="0.25" >N=4</text>
<text x="435.81" y="73.20" font-size="8.2" textLength="15.67" lengthAdjust="spacingAndGlyphs" fill="#1e1e1e" stroke="#1e1e1e" stroke-width="0.25" >N=3</text>
<text x="487.26" y="102.60" font-size="8.2" textLength="23.10" lengthAdjust="spacingAndGlyphs" fill="#1e1e1e" stroke="#1e1e1e" stroke-width="0.25" >Whole</text>
<text x="488.35" y="112.70" font-size="8.2" textLength="20.80" lengthAdjust="spacingAndGlyphs" fill="#1e1e1e" stroke="#1e1e1e" stroke-width="0.25" >blood</text>
<text x="481.24" y="273.70" font-size="8.2" textLength="16.55" lengthAdjust="spacingAndGlyphs" fill="#1e1e1e" stroke="#1e1e1e" stroke-width="0.25" >Purif</text>
<text x="481.26" y="284.00" font-size="8.2" textLength="17.17" lengthAdjust="spacingAndGlyphs" fill="#1e1e1e" stroke="#1e1e1e" stroke-width="0.25" >PMN</text>
<rect x="95.40" y="178.20" width="4.80" height="4.40" fill="#4d6385"/>
<text x="102.93" y="182.60" font-size="7.6" textLength="37.75" lengthAdjust="spacingAndGlyphs" fill="#1e1e1e" stroke="#1e1e1e" stroke-width="0.25" >CD16B WT</text>
<rect x="152.10" y="178.20" width="4.80" height="4.40" fill="#a23545"/>
<text x="160.64" y="182.60" font-size="7.6" textLength="43.80" lengthAdjust="spacingAndGlyphs" fill="#1e1e1e" stroke="#1e1e1e" stroke-width="0.25" >CD16B NULL</text>
<rect x="339.20" y="178.00" width="4.80" height="4.40" fill="#4d6385"/>
<text x="347.33" y="182.50" font-size="7.6" textLength="37.24" lengthAdjust="spacingAndGlyphs" fill="#1e1e1e" stroke="#1e1e1e" stroke-width="0.25" >CD16B WT</text>
<rect x="396.90" y="178.00" width="4.80" height="4.40" fill="#a23545"/>
<text x="404.44" y="182.50" font-size="7.6" textLength="43.50" lengthAdjust="spacingAndGlyphs" fill="#1e1e1e" stroke="#1e1e1e" stroke-width="0.25" >CD16B NULL</text>
<rect x="72.10" y="361.20" width="4.80" height="4.70" fill="#4d6385"/>
<text x="80.03" y="366.00" font-size="7.6" textLength="53.69" lengthAdjust="spacingAndGlyphs" fill="#1e1e1e" stroke="#1e1e1e" stroke-width="0.25" >CD16B WT N=4</text>
<rect x="148.70" y="361.20" width="4.80" height="4.70" fill="#a23545"/>
<text x="156.62" y="366.00" font-size="7.6" textLength="62.42" lengthAdjust="spacingAndGlyphs" fill="#1e1e1e" stroke="#1e1e1e" stroke-width="0.25" >CD16B NULL N=3</text>
<rect x="317.00" y="361.00" width="4.80" height="4.60" fill="#4d6385"/>
<text x="324.72" y="365.70" font-size="7.6" textLength="53.99" lengthAdjust="spacingAndGlyphs" fill="#1e1e1e" stroke="#1e1e1e" stroke-width="0.25" >CD16B WT N=4</text>
<rect x="393.70" y="361.00" width="4.80" height="4.60" fill="#a23545"/>
<text x="401.62" y="365.70" font-size="7.6" textLength="62.42" lengthAdjust="spacingAndGlyphs" fill="#1e1e1e" stroke="#1e1e1e" stroke-width="0.25" >CD16B NULL N=3</text>
<rect x="0.00" y="0.00" width="520.00" height="1.00" fill="#555555"/>
<rect x="0.00" y="1.00" width="520.00" height="1.00" fill="#858585"/>
<rect x="0.00" y="1.00" width="1.20" height="372.00" fill="#000"/>
<rect x="518.80" y="1.00" width="1.20" height="372.00" fill="#000"/>
<rect x="0.00" y="372.00" width="520.00" height="1.00" fill="#8a8a8a"/>
<rect x="0.00" y="373.00" width="520.00" height="1.00" fill="#525252"/>
</svg>
</body></html>
